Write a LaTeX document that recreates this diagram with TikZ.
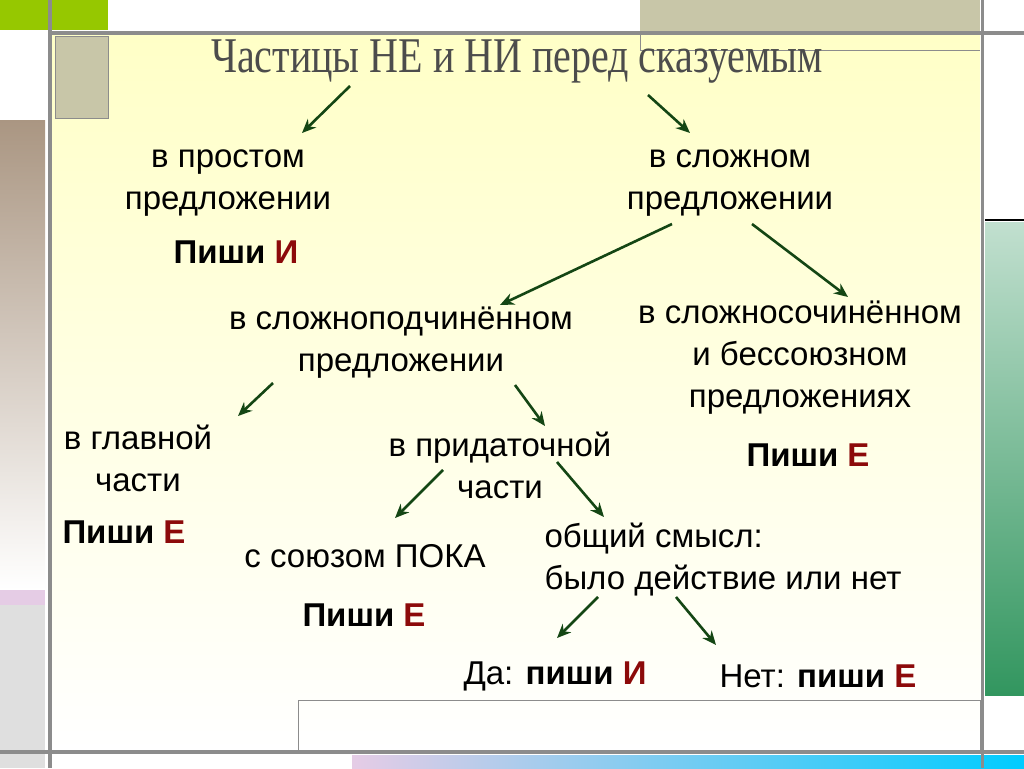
\documentclass[tikz,border=0pt]{standalone}
\usepackage{fontspec}
\setmainfont{Liberation Sans}
\newfontfamily\titlefont{Liberation Serif}
\usetikzlibrary{arrows.meta}
\definecolor{arrgreen}{RGB}{20,70,20}
\definecolor{darkred}{RGB}{140,10,10}
\definecolor{framegray}{RGB}{140,140,140}
\definecolor{tan}{RGB}{200,198,168}
\definecolor{leafgreen}{RGB}{150,200,0}
\definecolor{seagreen}{RGB}{50,150,95}
\definecolor{mudbrown}{RGB}{170,150,130}
\tikzset{
  lbl/.style={align=center,font=\fontsize{33}{42}\selectfont},
  pishi/.style={font=\fontsize{33}{40}\selectfont\bfseries},
  arr/.style={-{Stealth[length=14pt,width=12pt]},line width=2.6pt,arrgreen}
}
\begin{document}
\begin{tikzpicture}[x=1pt,y=-1pt]
\useasboundingbox (0,0) rectangle (1024,768);
% background
\fill[white] (0,0) rectangle (1024,768);
\shade[top color=yellow!22,bottom color=white] (52,35) rectangle (980,750);
\fill[leafgreen] (0,0) rectangle (108,30);
\fill[tan] (55,36) rectangle (108,118);
\draw[framegray] (55,36) rectangle (108,118);
\fill[tan] (640,0) rectangle (980,32);
\draw[framegray] (640,32) -- (640,50) -- (980,50);
\shade[top color=mudbrown,bottom color=white] (0,120) rectangle (45,590);
\fill[violet!20] (0,590) rectangle (45,605);
\fill[gray!25] (0,605) rectangle (45,768);
\shade[top color=seagreen!30,bottom color=seagreen] (985,222) rectangle (1024,695);
\draw[black,line width=1.5pt] (985,220) -- (1024,220);
\draw[framegray] (298,700) rectangle (980,750);
\shade[left color=violet!20,right color=cyan!80!blue] (352,755) rectangle (1024,768);
\draw[framegray,line width=4pt] (50,0) -- (50,768);
\draw[framegray,line width=4pt] (50,33) -- (1024,33);
\draw[framegray,line width=3pt] (982,0) -- (982,768);
\draw[framegray,line width=4pt] (0,752) -- (1024,752);
% texts
\node[font=\titlefont\fontsize{50}{54}\selectfont,text=gray!60!black,xscale=0.8] (title) at (517,62) {Частицы НЕ и НИ перед сказуемым};
\node[lbl] (simple) at (228,183) {в простом\\предложении};
\node[pishi] (p1) at (236,252) {Пиши \textcolor{darkred}{И}};
\node[lbl] (complex) at (730,183) {в сложном\\предложении};
\node[lbl] (spp) at (401,343) {в сложноподчинённом\\предложении};
\node[lbl] (ssp) at (800,358) {в сложносочинённом\\и бессоюзном\\предложениях};
\node[pishi] (p2) at (808,455) {Пиши \textcolor{darkred}{Е}};
\node[lbl] (main) at (138,458) {в главной\\части};
\node[pishi] (p3) at (124,532) {Пиши \textcolor{darkred}{Е}};
\node[lbl] (sub) at (500,465) {в придаточной\\части};
\node[lbl] (poka) at (365,556) {с союзом ПОКА};
\node[pishi] (p4) at (364,615) {Пиши \textcolor{darkred}{Е}};
\node[lbl,align=left] (sense) at (723,560) {общий смысл:\\было действие или нет};
\node[font=\fontsize{33}{40}\selectfont] (yes) at (555,676) {Да: \textbf{пиши} \textcolor{darkred}{\textbf{И}}};
\node[font=\fontsize{33}{40}\selectfont] (no) at (818,676) {Нет: \textbf{пиши} \textcolor{darkred}{\textbf{Е}}};
% arrows
\coordinate (a1) at (350,86); \coordinate (b1) at (302,133);
\coordinate (a2) at (648,95); \coordinate (b2) at (690,133);
\coordinate (a3) at (672,224); \coordinate (b3) at (500,305);
\coordinate (a4) at (752,224); \coordinate (b4) at (848,297);
\coordinate (a5) at (273,383); \coordinate (b5) at (238,416);
\coordinate (a6) at (515,385); \coordinate (b6) at (545,426);
\coordinate (a7) at (443,470); \coordinate (b7) at (395,518);
\coordinate (a8) at (557,462); \coordinate (b8) at (604,517);
\coordinate (a9) at (598,597); \coordinate (b9) at (557,638);
\coordinate (a10) at (676,597); \coordinate (b10) at (716,645);
\foreach \i in {1,...,10} \draw[arr] (a\i) -- (b\i);
\end{tikzpicture}
\end{document}
